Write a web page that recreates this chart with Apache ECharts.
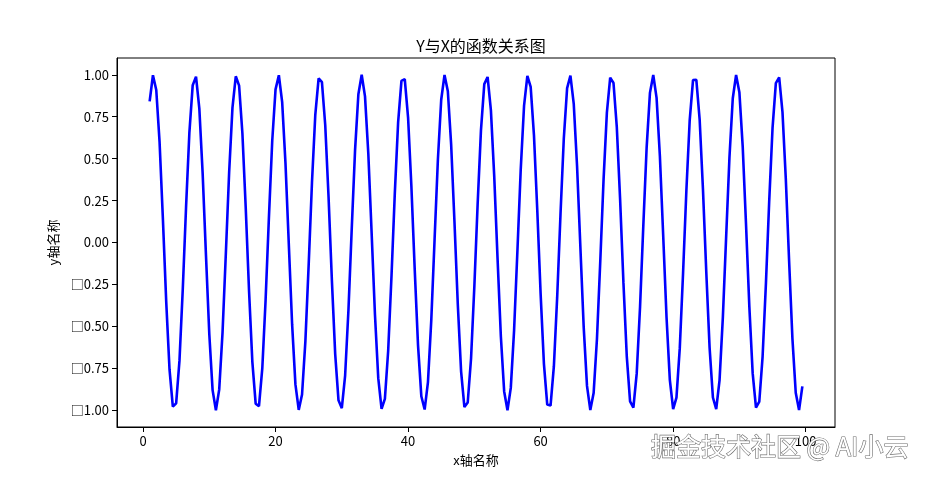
<!DOCTYPE html>
<html>
<head>
<meta charset="utf-8">
<script src="https://cdn.jsdelivr.net/npm/echarts@6/dist/echarts.min.js"></script>
<style>
html,body{margin:0;padding:0;background:#fff;}
#chart{width:928px;height:480px;}
</style>
</head>
<body>
<div id="chart"></div>
<script>
const titleText = 'Y与X的函数关系图';
const xName = 'x轴名称';
const yName = 'y轴名称';
const watermark = '掘金技术社区 @ AI小云';

const xValues = [
1,1.5,2,2.5,3,3.5,4,4.5,5,5.5,6,6.5,7,7.5,8,8.5,9,9.5,10,10.5,
11,11.5,12,12.5,13,13.5,14,14.5,15,15.5,16,16.5,17,17.5,18,18.5,19,19.5,20,20.5,
21,21.5,22,22.5,23,23.5,24,24.5,25,25.5,26,26.5,27,27.5,28,28.5,29,29.5,30,30.5,
31,31.5,32,32.5,33,33.5,34,34.5,35,35.5,36,36.5,37,37.5,38,38.5,39,39.5,40,40.5,
41,41.5,42,42.5,43,43.5,44,44.5,45,45.5,46,46.5,47,47.5,48,48.5,49,49.5,50,50.5,
51,51.5,52,52.5,53,53.5,54,54.5,55,55.5,56,56.5,57,57.5,58,58.5,59,59.5,60,60.5,
61,61.5,62,62.5,63,63.5,64,64.5,65,65.5,66,66.5,67,67.5,68,68.5,69,69.5,70,70.5,
71,71.5,72,72.5,73,73.5,74,74.5,75,75.5,76,76.5,77,77.5,78,78.5,79,79.5,80,80.5,
81,81.5,82,82.5,83,83.5,84,84.5,85,85.5,86,86.5,87,87.5,88,88.5,89,89.5,90,90.5,
91,91.5,92,92.5,93,93.5,94,94.5,95,95.5,96,96.5,97,97.5,98,98.5,99,99.5
];

const yValues = [
0.841,0.997,0.909,0.598,0.141,-0.351,-0.757,-0.978,-0.959,-0.706,
-0.279,0.215,0.657,0.938,0.989,0.798,0.412,-0.075,-0.544,-0.880,
-1.000,-0.876,-0.537,-0.066,0.420,0.804,0.991,0.935,0.650,0.207,
-0.288,-0.712,-0.961,-0.976,-0.751,-0.343,0.150,0.605,0.913,0.997,
0.837,0.472,-0.009,-0.487,-0.846,-0.998,-0.906,-0.591,-0.132,0.359,
0.763,0.979,0.956,0.699,0.271,-0.224,-0.664,-0.941,-0.988,-0.793,
-0.404,0.084,0.551,0.884,1.000,0.871,0.529,0.057,-0.428,-0.809,
-0.992,-0.932,-0.644,-0.198,0.296,0.718,0.964,0.974,0.745,0.334,
-0.159,-0.612,-0.917,-0.996,-0.832,-0.464,0.018,0.495,0.851,0.999,
0.902,0.584,0.124,-0.367,-0.768,-0.981,-0.954,-0.693,-0.262,0.232,
0.670,0.944,0.987,0.788,0.396,-0.093,-0.559,-0.888,-1.000,-0.867,
-0.522,-0.049,0.436,0.814,0.993,0.928,0.637,0.189,-0.305,-0.724,
-0.966,-0.972,-0.739,-0.326,0.167,0.620,0.920,0.995,0.827,0.456,
-0.027,-0.503,-0.855,-0.999,-0.898,-0.577,-0.115,0.375,0.774,0.983,
0.951,0.686,0.254,-0.241,-0.677,-0.947,-0.985,-0.782,-0.388,0.102,
0.566,0.892,0.999,0.862,0.514,0.040,-0.444,-0.819,-0.994,-0.925,
-0.630,-0.180,0.313,0.730,0.968,0.970,0.733,0.317,-0.176,-0.627,
-0.924,-0.994,-0.822,-0.448,0.035,0.510,0.860,0.999,0.894,0.570,
0.106,-0.384,-0.779,-0.984,-0.948,-0.680,-0.245,0.250,0.683,0.950,
0.984,0.777,0.380,-0.110,-0.573,-0.896,-0.999,-0.858
];

const xTicks = [0, 20, 40, 60, 80, 100];
const xTickLabels = ['0', '20', '40', '60', '80', '100'];
const yTicks = [-1, -0.75, -0.5, -0.25, 0, 0.25, 0.5, 0.75, 1];
const yTickLabels = ['□1.00', '□0.75', '□0.50', '□0.25', '0.00', '0.25', '0.50', '0.75', '1.00'];

const FONT = '"Noto Sans CJK SC", "DejaVu Sans", sans-serif';

const data = xValues.map((x, i) => [x, yValues[i]]);

const chart = echarts.init(document.getElementById('chart'), null, {renderer: 'canvas'});
chart.setOption({
  animation: false,
  backgroundColor: '#ffffff',
  title: {
    text: titleText,
    left: 476, top: 33, textAlign: 'center',
    textStyle: {fontFamily: FONT, fontSize: 16, fontWeight: 'normal', color: '#000'}
  },
  grid: {
    left: 117, top: 58, width: 718, height: 369,
    show: true, borderColor: '#000', borderWidth: 1, backgroundColor: 'transparent'
  },
  xAxis: {
    type: 'value',
    min: -3.925, max: 104.425,
    name: xName, nameLocation: 'middle', nameGap: 27,
    nameTextStyle: {fontFamily: FONT, fontSize: 13, color: '#000'},
    axisLine: {show: true, onZero: false, lineStyle: {color: '#000', width: 1}},
    axisTick: {show: true, length: 5, lineStyle: {color: '#000'}, customValues: xTicks},
    axisLabel: {
      fontFamily: FONT, fontSize: 13, color: '#000', margin: 8,
      customValues: xTicks,
      formatter: v => xTickLabels[xTicks.indexOf(v)] ?? ''
    },
    splitLine: {show: false}
  },
  yAxis: {
    type: 'value',
    min: -1.1, max: 1.1,
    name: yName, nameLocation: 'middle', nameGap: 50, nameRotate: 90,
    nameTextStyle: {fontFamily: FONT, fontSize: 13, color: '#000'},
    axisLine: {show: true, onZero: false, lineStyle: {color: '#000', width: 1}},
    axisTick: {show: true, length: 5, lineStyle: {color: '#000'}, customValues: yTicks},
    axisLabel: {
      fontFamily: FONT, fontSize: 13, color: '#000', margin: 8,
      customValues: yTicks,
      formatter: v => {
        const i = yTicks.findIndex(t => Math.abs(t - v) < 1e-9);
        return i >= 0 ? yTickLabels[i] : '';
      }
    },
    splitLine: {show: false}
  },
  series: [{
    type: 'line',
    data: data,
    showSymbol: false,
    symbol: 'none',
    lineStyle: {color: '#0000ff', width: 2.6},
    z: 3
  }],
  graphic: [{
    type: 'text',
    right: 19, top: 433,
    z: 100,
    style: {
      text: watermark,
      fontFamily: FONT, fontSize: 25,
      fill: '#ffffff',
      stroke: '#6e6e6e', lineWidth: 1.2,
      shadowColor: 'rgba(0,0,0,0.45)', shadowBlur: 2, shadowOffsetX: 1, shadowOffsetY: 1
    }
  }]
});
</script>
</body>
</html>
